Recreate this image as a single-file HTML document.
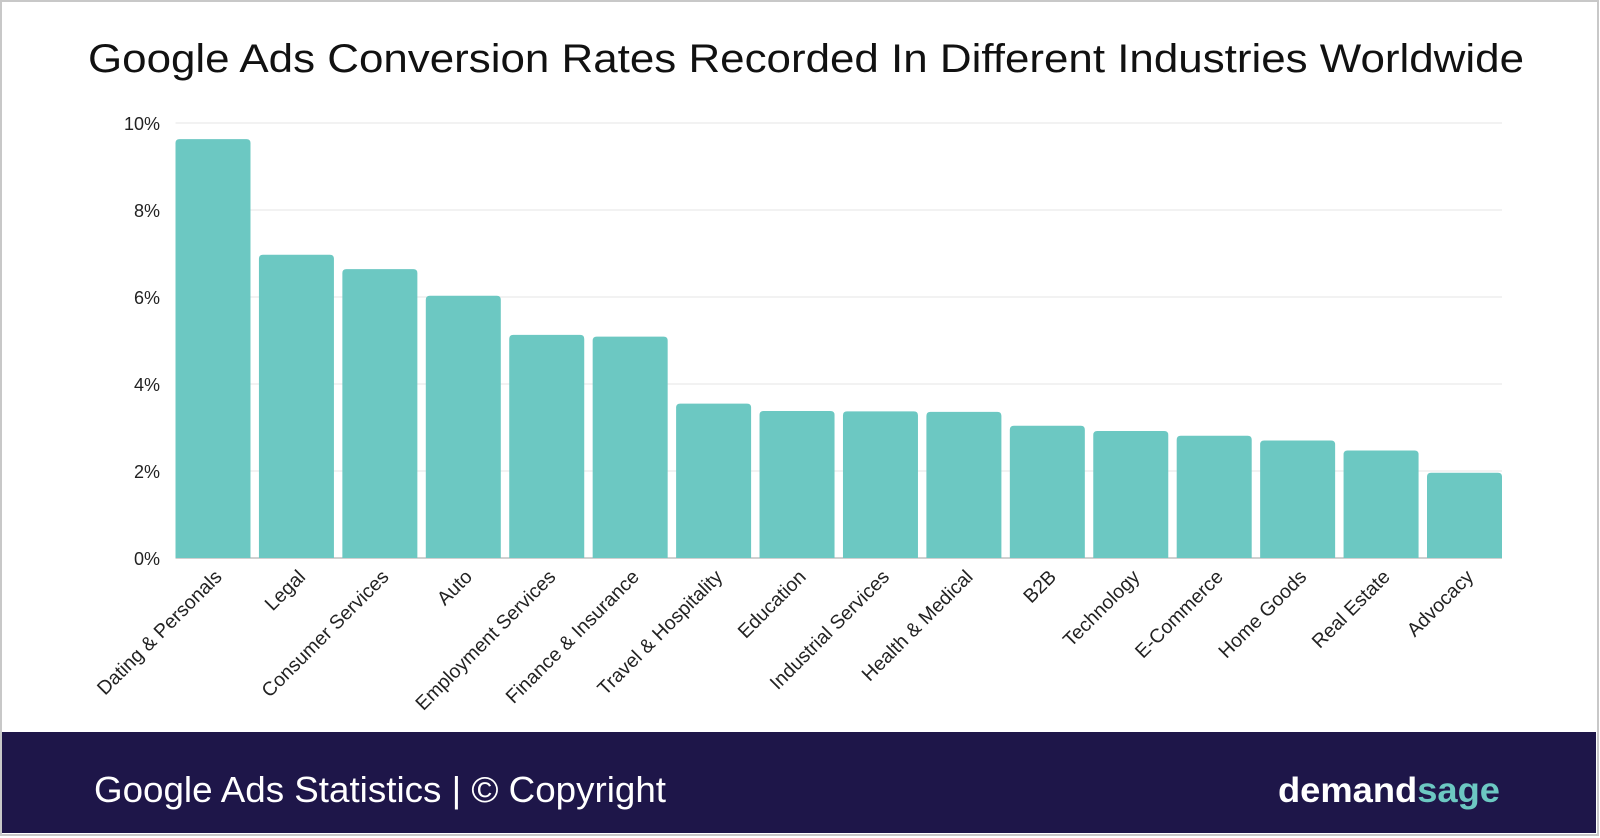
<!DOCTYPE html>
<html><head><meta charset="utf-8"><style>
html,body{margin:0;padding:0;background:#fff;}
svg{display:block;font-family:"Liberation Sans",sans-serif;}
</style></head><body>
<svg width="1600" height="838" viewBox="0 0 1600 838">
<rect x="1" y="1" width="1597" height="834" fill="#fff" stroke="#c8c8c8" stroke-width="2"/>
<text x="806" y="72" text-anchor="middle" font-size="40" fill="#111" textLength="1436" lengthAdjust="spacingAndGlyphs">Google Ads Conversion Rates Recorded In Different Industries Worldwide</text>
<g id="grid"></g>
<g id="bars"></g>
<g id="xlabels"></g>
<rect x="2" y="732" width="1594" height="101" fill="#1e1649"/>
<text x="94" y="802" font-size="36" fill="#fff" textLength="572" lengthAdjust="spacingAndGlyphs">Google Ads Statistics | © Copyright</text>
<text x="1278" y="802" font-size="35" font-weight="bold" fill="#fff" textLength="222" lengthAdjust="spacingAndGlyphs">demand<tspan fill="#6cc8c2">sage</tspan></text>
</svg>
<script>
const categories=["Dating & Personals","Legal","Consumer Services","Auto","Employment Services","Finance & Insurance","Travel & Hospitality","Education","Industrial Services","Health & Medical","B2B","Technology","E-Commerce","Home Goods","Real Estate","Advocacy"];
const values=[9.63,6.97,6.64,6.03,5.13,5.09,3.55,3.38,3.37,3.36,3.04,2.92,2.81,2.70,2.47,1.96];
const ticks=[0,2,4,6,8,10];
const tickLabels=["0%","2%","4%","6%","8%","10%"];
const NS="http://www.w3.org/2000/svg";
const x0=175.5,x1=1502,y0=558,y1=123,yMax=10;
const bw=75, slot=(x1-x0-bw)/(categories.length-1);
function yScale(v){return y0-(v/yMax)*(y0-y1);}
function xScale(i){return x0+i*slot;}
function mk(t,a){const e=document.createElementNS(NS,t);for(const k in a)e.setAttribute(k,a[k]);return e;}
const grid=document.getElementById('grid');
ticks.forEach((t,i)=>{
  const y=yScale(t);
  const l=mk('line',{x1:x0,x2:x1,y1:y,y2:y,stroke:t===0?'#d0d0d0':'#e6e6e6','stroke-width':t===0?2:1});
  
  
  grid.appendChild(l);
  const tx=mk('text',{x:160,y:y+7,'text-anchor':'end','font-size':18,fill:'#222'});
  tx.textContent=tickLabels[i];
  
  
  grid.appendChild(tx);
});
const bars=document.getElementById('bars'),xl=document.getElementById('xlabels');
values.forEach((v,i)=>{
  const x=xScale(i),y=yScale(v);
  const r=mk('path',{d:`M${x},${y0}V${y+4}Q${x},${y} ${x+4},${y}H${x+bw-4}Q${x+bw},${y} ${x+bw},${y+4}V${y0}Z`,fill:'#6cc8c2'});
  
  
  bars.appendChild(r);
  const cx=x+bw/2+10;
  const t=mk('text',{x:cx,y:578,'text-anchor':'end','font-size':19.5,fill:'#222',transform:`rotate(-45 ${cx} 578)`});
  t.textContent=categories[i];
  
  
  xl.appendChild(t);
});
</script>
</body></html>
